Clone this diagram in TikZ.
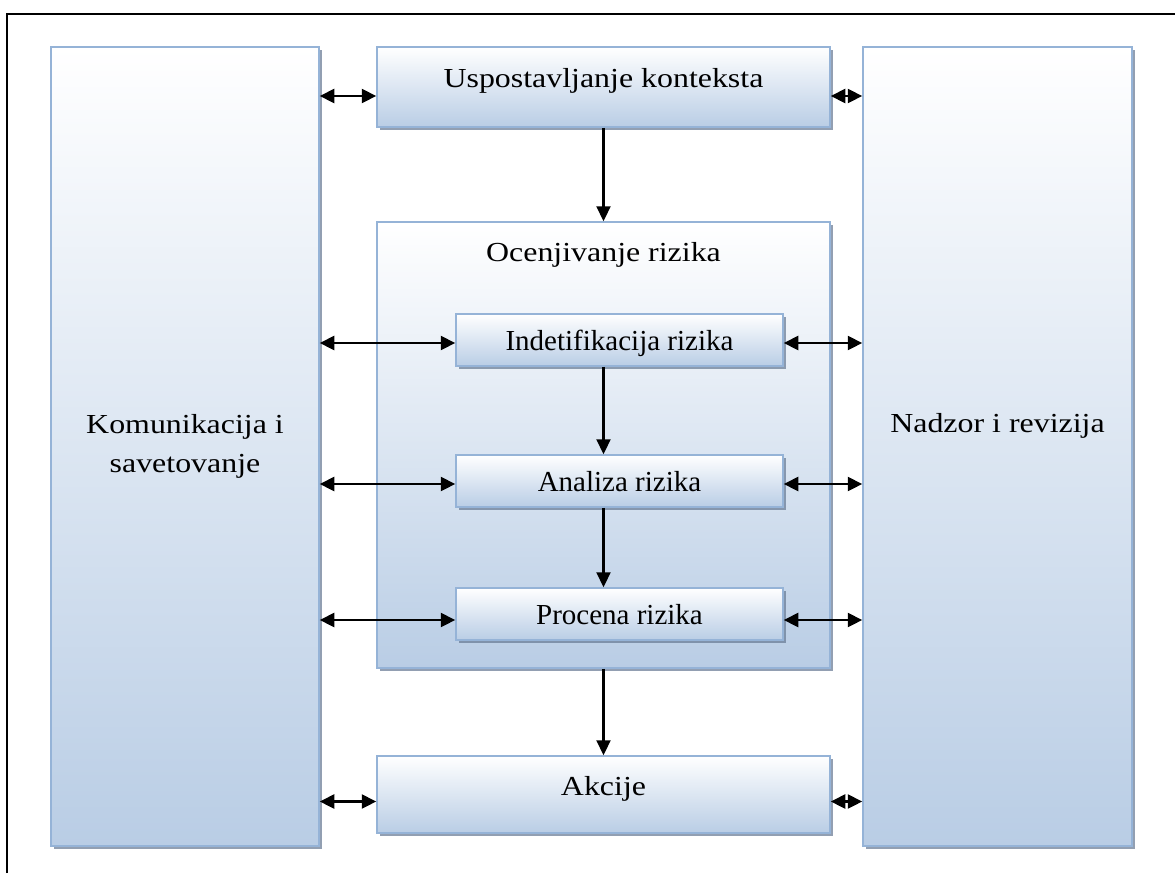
\documentclass[tikz,border=0pt]{standalone}
\usepackage{fontspec}
\setmainfont{Liberation Serif}
\newfontfamily\widefont[FakeStretch=1.16]{Liberation Serif}
\usetikzlibrary{positioning, shadows, arrows.meta}

\definecolor{boxedge}{RGB}{149,179,215}
\definecolor{boxblue}{RGB}{185,205,229}
\definecolor{boxshade}{RGB}{105,124,150}

\tikzset{
  box/.style={draw=boxedge, line width=1.5pt, top color=white, bottom color=boxblue,
    drop shadow={shadow xshift=3pt, shadow yshift=-3pt, fill=boxshade, opacity=0.73},
    inner sep=0pt, align=center},
  bigtext/.style={font=\widefont\fontsize{27.5}{39}\selectfont},
  smalltext/.style={font=\fontsize{29}{34}\selectfont, text depth=0pt},
  link/.style={line width=2.2pt, -{Triangle[length=15pt,width=14pt]}},
  dbl/.style={line width=2.2pt, {Triangle[length=14.5pt,width=14pt]}-{Triangle[length=14.5pt,width=14pt]}},
}

\begin{document}
\begin{tikzpicture}[x=1pt, y=-1pt]
        \useasboundingbox (0,0) rectangle (1175,873);
        \draw[line width=2pt] (7,873) -- (7,14) -- (1175,14);

        % Side columns
        \node[box, bigtext, minimum width=268pt, minimum height=799pt] (kom) at (185,446.5) {Komunikacija i\\savetovanje};
        \node[box, bigtext, minimum width=269pt, minimum height=799pt, text depth=48pt] (nad) at (997.5,446.5) {Nadzor i revizija};

        % Middle column
        \node[box, bigtext, minimum width=453pt, minimum height=80pt, text depth=19pt] (usp) at (603.5,87) {Uspostavljanje konteksta};
        \node[box, minimum width=453pt, minimum height=446pt] (ocen) at (603.5,445) {};
        \node[bigtext, anchor=base] (ocentxt) at ([yshift=-40pt]ocen.north) {Ocenjivanje rizika};
        \node[box, smalltext, minimum width=327pt, minimum height=52pt] (ind) at (619.5,340) {Indetifikacija rizika};
        \node[box, smalltext, minimum width=327pt, minimum height=52pt] (ana) at (619.5,481) {Analiza rizika};
        \node[box, smalltext, minimum width=327pt, minimum height=52pt] (pro) at (619.5,614) {Procena rizika};
        \node[box, bigtext, minimum width=453pt, minimum height=77pt, text depth=18pt] (akc) at (603.5,794.5) {Akcije};

        % Flow down the middle
        \draw[link] (usp.south) -- (ocen.north);
        \draw[link] (ind.south -| usp.south) -- (ana.north -| usp.south);
        \draw[link] (ana.south -| usp.south) -- (pro.north -| usp.south);
        \draw[link] (ocen.south) -- (akc.north);

        % Links to the side columns
        \draw[dbl] ([yshift=-9pt]kom.east |- usp.west) -- ([yshift=-9pt]usp.west);
        \draw[dbl] ([yshift=-9pt]usp.east) -- ([yshift=-9pt]nad.west |- usp.east);
        \draw[dbl] ([yshift=-3pt]kom.east |- ind.west) -- ([yshift=-3pt]ind.west);
        \draw[dbl] ([yshift=-3pt]ind.east) -- ([yshift=-3pt]nad.west |- ind.east);
        \draw[dbl] ([yshift=-3pt]kom.east |- ana.west) -- ([yshift=-3pt]ana.west);
        \draw[dbl] ([yshift=-3pt]ana.east) -- ([yshift=-3pt]nad.west |- ana.east);
        \draw[dbl] ([yshift=-6pt]kom.east |- pro.west) -- ([yshift=-6pt]pro.west);
        \draw[dbl] ([yshift=-6pt]pro.east) -- ([yshift=-6pt]nad.west |- pro.east);
        \draw[dbl] ([yshift=-7pt]kom.east |- akc.west) -- ([yshift=-7pt]akc.west);
        \draw[dbl] ([yshift=-7pt]akc.east) -- ([yshift=-7pt]nad.west |- akc.east);
    \end{tikzpicture}
\end{document}
